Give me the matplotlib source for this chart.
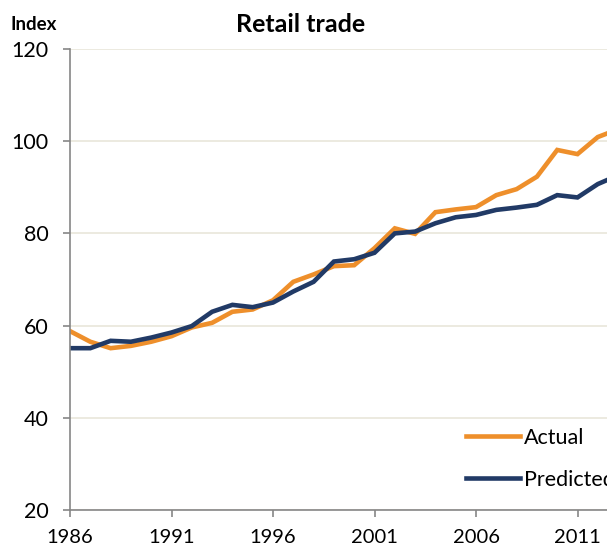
import matplotlib
matplotlib.use('Agg')
from matplotlib import pyplot as plt

# data
years = list(range(1986, 2014))
actual = [58.8, 56.5, 55.1, 55.6, 56.5, 57.7, 59.6, 60.6, 63.0, 63.5,
          65.5, 69.5, 71.1, 72.9, 73.1, 76.8, 81.1, 79.9, 84.6, 85.2,
          85.7, 88.3, 89.6, 92.3, 98.1, 97.2, 100.9, 102.6]
predicted = [55.1, 55.1, 56.7, 56.5, 57.4, 58.5, 59.9, 63.0, 64.5, 64.0,
             65.0, 67.4, 69.5, 73.9, 74.4, 75.8, 80.0, 80.4, 82.2, 83.5,
             84.0, 85.1, 85.6, 86.2, 88.3, 87.8, 90.7, 92.6]
xticks = [1986, 1991, 1996, 2001, 2006, 2011]
yticks = [20, 40, 60, 80, 100, 120]

plt.rcParams['font.family'] = ['Lato', 'DejaVu Sans']

fig = plt.figure(figsize=(6.07, 5.56), dpi=100)
# axes runs past the right edge of the figure (reference is cropped)
ax = fig.add_axes([70 / 607, 46 / 556, 30 * 20.3 / 607, 461 / 556])

ax.plot(years, actual, color='#EE8F2B', lw=3.3, label='Actual', solid_joinstyle='miter')
ax.plot(years, predicted, color='#213A66', lw=3.3, label='Predicted', solid_joinstyle='miter')

ax.set_xlim(1986, 2016)
ax.set_ylim(20, 120)
ax.set_xticks(xticks)
ax.set_yticks(yticks)
ax.tick_params(axis='both', color='#868686', length=5, width=1.2)
ax.tick_params(axis='y', labelsize=15.5, pad=10.5)
ax.tick_params(axis='x', labelsize=14.5, pad=9)

ax.grid(axis='y', color='#E9E6DA', lw=1.2)
ax.set_axisbelow(True)
for s in ['top', 'right']:
    ax.spines[s].set_visible(False)
for s in ['left', 'bottom']:
    ax.spines[s].set_color('#868686')
    ax.spines[s].set_linewidth(1.2)

fig.text(10 / 607, 1 - 24 / 556, 'Index', fontsize=13.5, fontweight='bold', va='center', ha='left')
fig.text(301 / 607, 1 - 24 / 556, 'Retail trade', fontsize=18, fontweight='bold', va='center', ha='center')

leg = ax.legend(loc='upper left', bbox_to_anchor=(466 / 607, 1 - 428 / 556),
                bbox_transform=fig.transFigure, frameon=False, fontsize=15.5,
                handlelength=2.5, handletextpad=0.2, labelspacing=1.0,
                borderpad=0, borderaxespad=0)

plt.savefig('out.png', dpi=100)
